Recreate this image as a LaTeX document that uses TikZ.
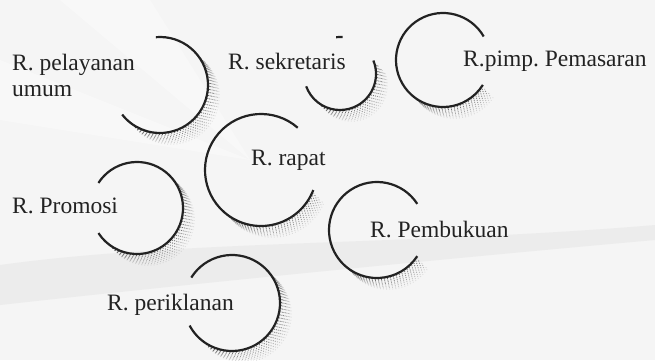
\documentclass[tikz,border=0pt]{standalone}
\usepackage{fontspec}
\setmainfont{Liberation Serif}

\definecolor{paper}{HTML}{F5F5F5}
\definecolor{swoosh}{HTML}{ECECEC}
\definecolor{ink}{HTML}{222222}

\begin{document}
\begin{tikzpicture}[
				x=1pt, y=1pt,
				room/.style={inner sep=0pt, text=ink, font=\fontsize{23.5}{26}\selectfont\frenchspacing},
				ring/.style={draw=ink, line width=2.2pt},
				speckle/.style={draw=black!70, line width=1pt, dash pattern=on 0.8pt off 2.3pt}
				]
				
				% page and the soft background bands
				\useasboundingbox (0,0) rectangle (655,360);
				\fill[paper] (0,0) rectangle (655,360);
				\fill[white, opacity=0.35] (0,300) -- (250,200) -- (0,240) -- cycle;
				\fill[white, opacity=0.35] (60,360) -- (250,200) -- (150,360) -- cycle;
				\fill[swoosh] (0,95) .. controls (180,120) and (420,115) .. (655,135)
					-- (655,120) .. controls (430,100) and (180,75) .. (0,55) -- cycle;
				
				% rings: centre x / centre y / radius / from / to / shadow from / shadow to
				\foreach \cx/\cy/\r/\a/\b/\sa/\sb in {
						160/275/48/95/-142/40/-130,
						340/286/36/22/-160/20/-130,
						443/300/47/30/328/-130/-34,
						261/190/56/49/339/-130/-23,
						137/152/46/147/-147/42/-130,
						232/57/48/148/-152/42/-130,
						377/130/48/33/327/-130/-35}{
					\foreach \k in {1,...,8}
						\draw[speckle, opacity=0.95-0.1*\k, dash phase=1.1*\k pt]
							(\cx+1.4*\k,\cy-1.4*\k) ++(\sa:\r) arc[start angle=\sa, end angle=\sb, radius=\r];
					\draw[ring] (\cx,\cy) ++(\a:\r) arc[start angle=\a, end angle=\b, radius=\r];
				}
				% little piece left of the top of the sekretaris ring
				\draw[ring] (340,286) ++(96:37) arc[start angle=96, end angle=86, radius=37];
				
				\node[room, anchor=north west, align=left] (pelayanan) at (12,306) {R. pelayanan\\umum};
				\node[room, anchor=base west] (sekretaris) at (228,291) {R. sekretaris};
				\node[room, anchor=base west] (pemasaran) at (463,294) {R.pimp. Pemasaran};
				\node[room, anchor=base west] (rapat) at (251,195) {R. rapat};
				\node[room, anchor=base west] (promosi) at (12,147) {R. Promosi};
				\node[room, anchor=base west] (pembukuan) at (370,123) {R. Pembukuan};
				\node[room, anchor=base west] (periklanan) at (107,50) {R. periklanan};
				
			\end{tikzpicture}
\end{document}
